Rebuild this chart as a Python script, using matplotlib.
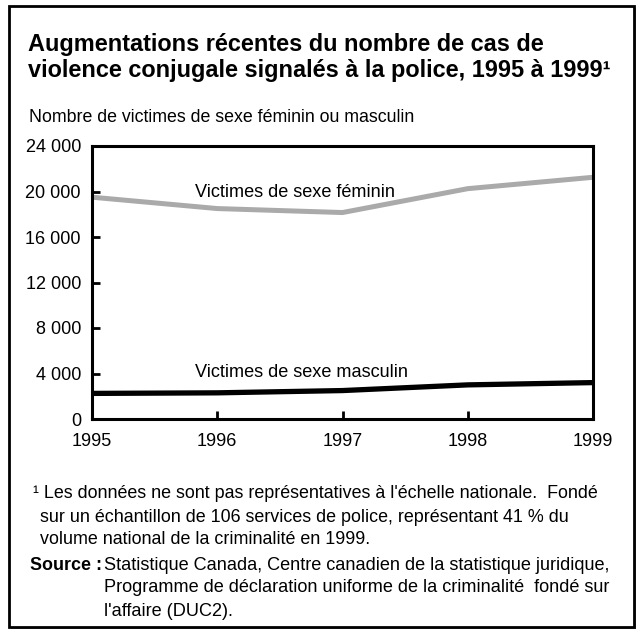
import matplotlib.pyplot as plt
from matplotlib.patches import Rectangle
from matplotlib.ticker import FuncFormatter

years = [1995, 1996, 1997, 1998, 1999]
female = [19500, 18500, 18150, 20250, 21250]
male = [2250, 2300, 2500, 3000, 3200]

plt.rcParams['font.family'] = ['Liberation Sans', 'DejaVu Sans']

W, H = 637, 630
fig = plt.figure(figsize=(W / 100, H / 100), dpi=100)


def fx(x):
    return x / W


def fy(y):
    return 1 - y / H


# frame with a light shadow
fig.patches.append(Rectangle((fx(11), fy(629)), fx(625), 621 / H, transform=fig.transFigure,
                             facecolor='#888888', edgecolor='none', zorder=0))
fig.patches.append(Rectangle((fx(9), fy(627)), fx(625), 621 / H, transform=fig.transFigure,
                             facecolor='white', edgecolor='black', linewidth=2, zorder=1))

ax = fig.add_axes([fx(92), fy(419), fx(593 - 92), (419 - 146) / H])
ax.set_zorder(3)
ax.plot(years, female, color='#aaaaaa', linewidth=3.6, solid_capstyle='butt')
ax.plot(years, male, color='black', linewidth=3.8, solid_capstyle='butt')
ax.set_xlim(1995, 1999)
ax.set_ylim(0, 24000)
ax.set_xticks(years)
ax.set_yticks(range(0, 24001, 4000))
ax.yaxis.set_major_formatter(FuncFormatter(lambda v, p: f"{int(v):,}".replace(",", " ")))
ax.tick_params(direction='in', length=6, width=2, labelsize=13, colors='black')
ax.tick_params(axis='x', pad=10)
ax.tick_params(axis='y', pad=8)
for s in ax.spines.values():
    s.set_linewidth(2.2)

ax.text(1995.82, 19900, "Victimes de sexe féminin", fontsize=13.1, va='center')
ax.text(1995.82, 4050, "Victimes de sexe masculin", fontsize=13.1, va='center')

fig.text(fx(28), fy(45), "Augmentations récentes du nombre de cas de", fontsize=16.9,
         fontweight='bold', va='center')
fig.text(fx(28), fy(71), "violence conjugale signalés à la police, 1995 à 1999¹", fontsize=16.9,
         fontweight='bold', va='center')
fig.text(fx(29), fy(118), "Nombre de victimes de sexe féminin ou masculin", fontsize=12.8, va='center')

fs = 12.9
fig.text(fx(33), fy(494), "¹ Les données ne sont pas représentatives à l'échelle nationale.  Fondé",
         fontsize=fs, va='center')
fig.text(fx(40), fy(517), "sur un échantillon de 106 services de police, représentant 41 % du",
         fontsize=fs, va='center')
fig.text(fx(40), fy(540), "volume national de la criminalité en 1999.", fontsize=fs, va='center')
fig.text(fx(30), fy(565), "Source :", fontsize=fs, fontweight='bold', va='center')
fig.text(fx(104), fy(565), "Statistique Canada, Centre canadien de la statistique juridique,",
         fontsize=13.1, va='center')
fig.text(fx(104), fy(588), "Programme de déclaration uniforme de la criminalité  fondé sur",
         fontsize=13.1, va='center')
fig.text(fx(104), fy(611), "l'affaire (DUC2).", fontsize=13.1, va='center')

fig.savefig("out.png", dpi=100)
